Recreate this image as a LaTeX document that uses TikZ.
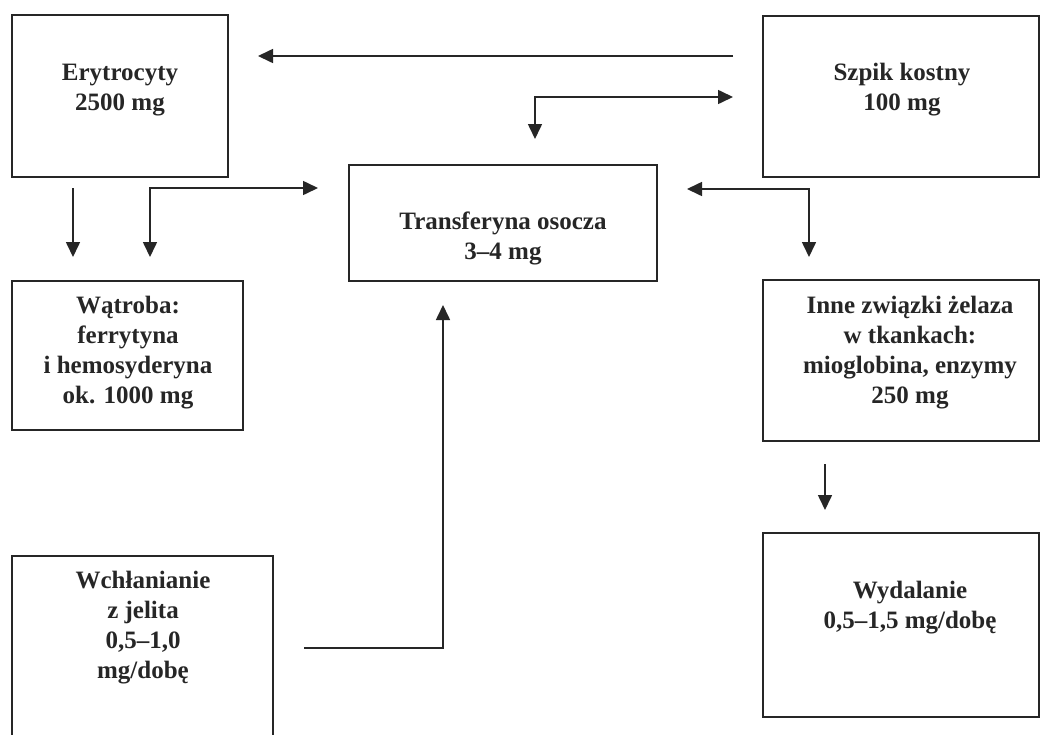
\documentclass[tikz,border=0pt]{standalone}
\usepackage{fontspec}
\setmainfont{Liberation Serif}
\usetikzlibrary{arrows.meta}
\begin{document}
\begin{tikzpicture}[x=1pt,y=-1pt,
  box/.style={draw=black!85, line width=1.6pt, rectangle, inner sep=0pt, outer sep=0pt},
  lbl/.style={font=\bfseries\fontsize{25}{30}\selectfont, align=center, inner sep=0pt, anchor=base, text=black!85},
  arr/.style={draw=black!85, line width=1.6pt, -{Triangle[length=15pt,width=14pt]}},
  darr/.style={draw=black!85, line width=1.6pt, {Triangle[length=15pt,width=14pt]}-{Triangle[length=15pt,width=14pt]}}
]
\useasboundingbox (0,0) rectangle (1042,734);
\fill[white] (0,0) rectangle (1042,734);

% boxes
\node[box, minimum width=216pt, minimum height=162pt] (ery) at (120,96) {};
\node[box, minimum width=276pt, minimum height=161pt] (szpik) at (901,96.5) {};
\node[box, minimum width=308pt, minimum height=116pt] (trans) at (503,223) {};
\node[box, minimum width=231pt, minimum height=149pt] (wat) at (127.5,355.5) {};
\node[box, minimum width=276pt, minimum height=161pt] (inne) at (901,360.5) {};
\node[box, minimum width=261pt, minimum height=190pt] (wch) at (142.5,651) {};
\node[box, minimum width=276pt, minimum height=184pt] (wyd) at (901,625) {};

% labels (anchor = baseline of the last line)
\node[lbl] (eryT) at (120,110) {Erytrocyty\\2500 mg};
\node[lbl] (szpikT) at (902,110) {Szpik kostny\\100 mg};
\node[lbl] (transT) at (503,259) {Transferyna osocza\\3–4 mg};
\node[lbl] (watT) at (128,403) {Wątroba:\\ferrytyna\\i hemosyderyna\\ok. 1000 mg};
\node[lbl] (inneT) at (910,403) {Inne związki żelaza\\w tkankach:\\mioglobina, enzymy\\250 mg};
\node[lbl] (wchT) at (143,678) {Wchłanianie\\z jelita\\0,5–1,0\\mg/dobę};
\node[lbl] (wydT) at (910,628) {Wydalanie\\0,5–1,5 mg/dobę};

% connector end points
\coordinate (s1a) at (733,56);
\coordinate (s1b) at (258,56);
\coordinate (s2a) at (535,139);
\coordinate (s2b) at (733,97);
\coordinate (e1a) at (73,188);
\coordinate (e1b) at (73,257);
\coordinate (e2a) at (150,257);
\coordinate (e2b) at (318,188);
\coordinate (t1a) at (687,189);
\coordinate (t1b) at (809,257);
\coordinate (i1a) at (825,464);
\coordinate (i1b) at (825,510);
\coordinate (w1a) at (304,648);
\coordinate (w1b) at (443,305);

% connectors
\draw[arr] (s1a) -- (s1b);
\draw[darr] (s2a) |- (s2b);
\draw[arr] (e1a) -- (e1b);
\draw[darr] (e2a) |- (e2b);
\draw[darr] (t1a) -| (t1b);
\draw[arr] (i1a) -- (i1b);
\draw[arr] (w1a) -| (w1b);
\end{tikzpicture}
\end{document}
